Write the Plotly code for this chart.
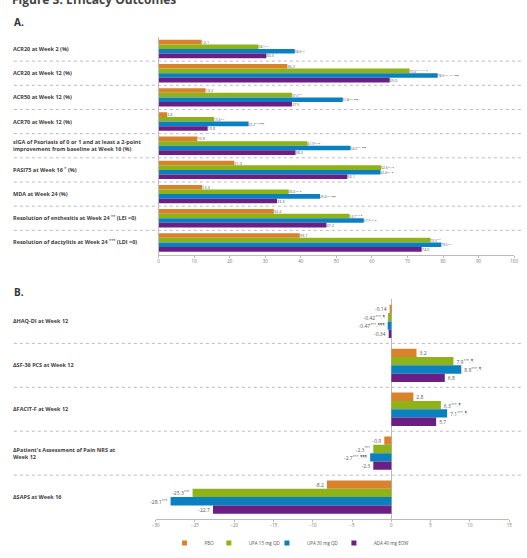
import plotly.graph_objects as go

W, H = 527, 558

series_names = ["PBO", "UPA 15 mg QD", "UPA 30 mg QD", "ADA 40 mg EOW"]
colors = ["#D9822B", "#8DB319", "#0A80C0", "#6B1F85"]

cats_a = [
    "ACR20 at Week 2 (%)",
    "ACR20 at Week 12 (%)",
    "ACR50 at Week 12 (%)",
    "ACR70 at Week 12 (%)",
    "sIGA of Psoriasis of 0 or 1 and at least a 2-point<br>improvement from baseline at Week 16 (%)",
    "PASI75 at Week 16 <sup>*</sup> (%)",
    "MDA at Week 24 (%)",
    "Resolution of enthesitis at Week 24 <sup>**</sup> (LEI =0)",
    "Resolution of dactylitis at Week 24 <sup>***</sup> (LDI =0)",
]
pbo_a = [12.1, 36.2, 13.2, 2.4, 10.9, 21.3, 12.3, 32.4, 39.7]
upa15_a = [28.1, 70.6, 37.5, 15.6, 41.9, 62.6, 36.6, 53.7, 76.5]
upa30_a = [38.3, 78.5, 51.8, 25.3, 54.0, 62.4, 45.4, 57.7, 79.5]
ada_a = [30.3, 65.0, 37.5, 13.8, 38.5, 53.1, 33.3, 47.2, 74.0]
sig_pbo_a = ["", "", "", "", "", "", "", "", ""]
sig_upa15_a = ["***", "***, ###, ¶", "***", "***", "***, ¶", "***, ¶", "***, ¶", "***, ¶", "***"]
sig_upa30_a = ["***", "***, ###, ¶¶¶", "***, ¶¶¶", "***, ¶¶¶", "***, ¶¶¶", "***, ¶", "***, ¶¶¶", "***, ¶", "***"]
sig_ada_a = ["", "", "", "", "", "", "", "", ""]

cats_b = [
    "ΔHAQ-DI at Week 12",
    "ΔSF-36 PCS at Week 12",
    "ΔFACIT-F at Week 12",
    "ΔPatient's Assessment of Pain NRS at<br>Week 12",
    "ΔSAPS at Week 16",
]
pbo_b = [-0.14, 3.2, 2.8, -0.9, -8.2]
upa15_b = [-0.42, 7.9, 6.3, -2.3, -25.3]
upa30_b = [-0.47, 8.9, 7.1, -2.7, -28.1]
ada_b = [-0.34, 6.8, 5.7, -2.3, -22.7]
sig_pbo_b = ["", "", "", "", ""]
sig_upa15_b = ["***, ¶", "***, ¶", "***, ¶", "***", "***"]
sig_upa30_b = ["***, ¶¶¶", "***, ¶", "***, ¶", "***, ¶¶¶", "***"]
sig_ada_b = ["", "", "", "", ""]

xticks_a = [0, 10, 20, 30, 40, 50, 60, 70, 80, 90, 100]
xticks_b = [-30, -25, -20, -15, -10, -5, 0, 5, 10, 15]


def fmt(v, sig, dec):
    s = f"{v:.{dec}f}"
    return s + (f"<sup>{sig}</sup>" if sig else "")


fig = go.Figure()

vals_a = [pbo_a, upa15_a, upa30_a, ada_a]
sigs_a = [sig_pbo_a, sig_upa15_a, sig_upa30_a, sig_ada_a]
vals_b = [pbo_b, upa15_b, upa30_b, ada_b]
sigs_b = [sig_pbo_b, sig_upa15_b, sig_upa30_b, sig_ada_b]

for k in range(4):
    fig.add_trace(go.Bar(
        y=cats_a, x=vals_a[k], orientation="h", name=series_names[k],
        marker=dict(color=colors[k], line=dict(width=0)),
        text=[fmt(v, s, 1) for v, s in zip(vals_a[k], sigs_a[k])],
        textposition="outside", textfont=dict(size=5, color="#555555"),
        cliponaxis=False, showlegend=False, xaxis="x", yaxis="y",
    ))
for k in range(4):
    decs = [2, 1, 1, 1, 1]
    fig.add_trace(go.Bar(
        y=cats_b, x=vals_b[k], orientation="h", name=series_names[k],
        marker=dict(color=colors[k], line=dict(width=0)),
        text=[fmt(v, s, d) for v, s, d in zip(vals_b[k], sigs_b[k], decs)],
        textposition="outside", textfont=dict(size=5, color="#555555"),
        cliponaxis=False, showlegend=False, xaxis="x2", yaxis="y2",
    ))

# one legend per series, so each entry sits where the reference has it
legend_ids = ["legend", "legend2", "legend3", "legend4"]
legend_x_px = [163, 208, 267, 335]
for k in range(4):
    fig.add_trace(go.Scatter(
        x=[None], y=[None], mode="markers", name=series_names[k],
        marker=dict(symbol="square", size=5, color=colors[k]),
        xaxis="x2", yaxis="y2", showlegend=True, legend=legend_ids[k],
    ))

axis_common = dict(
    showgrid=False, showline=True, linecolor="#BBBBBB", linewidth=1,
    ticks="outside", ticklen=2, tickcolor="#BBBBBB",
    tickfont=dict(size=4.5, color="#777777"),
)

legend_style = dict(orientation="h", y=1 - 544 / H, yanchor="middle",
                    xanchor="left", font=dict(size=4.5, color="#555555"),
                    itemwidth=30, bgcolor="rgba(0,0,0,0)")

fig.update_layout(
    width=W, height=H,
    margin=dict(l=0, r=0, t=0, b=0),
    paper_bgcolor="white", plot_bgcolor="white",
    barmode="group", bargap=0.24, bargroupgap=0,
    font=dict(family="Open Sans, DejaVu Sans, sans-serif"),
    xaxis=dict(domain=[157 / W, 518 / W], range=[0, 100], tickvals=xticks_a,
               anchor="y", zeroline=False, **axis_common),
    yaxis=dict(domain=[1 - 255 / H, 1 - 37 / H], autorange="reversed",
               showticklabels=False, showgrid=False, showline=True,
               linecolor="#BBBBBB", ticks="", anchor="x"),
    xaxis2=dict(domain=[154 / W, 513 / W], range=[-30, 15], tickvals=xticks_b,
                anchor="y2", zeroline=True, zerolinecolor="#BBBBBB",
                zerolinewidth=1, **axis_common),
    yaxis2=dict(domain=[1 - 520 / H, 1 - 300 / H], autorange="reversed",
                showticklabels=False, showgrid=False, showline=False,
                ticks="", anchor="x2"),
    legend=dict(x=legend_x_px[0] / W, **legend_style),
    legend2=dict(x=legend_x_px[1] / W, **legend_style),
    legend3=dict(x=legend_x_px[2] / W, **legend_style),
    legend4=dict(x=legend_x_px[3] / W, **legend_style),
)

annotations = [
    dict(text="<b>Figure 3. Efficacy Outcomes</b>", xref="paper", yref="paper",
         x=6 / W, y=1 + 1 / H, xanchor="left", yanchor="middle",
         showarrow=False, font=dict(size=12, color="#444444")),
    dict(text="<b>A.</b>", xref="paper", yref="paper", x=8 / W, y=1 - 22 / H,
         xanchor="left", yanchor="middle", showarrow=False,
         font=dict(size=10, color="#333333")),
    dict(text="<b>B.</b>", xref="paper", yref="paper", x=8 / W, y=1 - 293 / H,
         xanchor="left", yanchor="middle", showarrow=False,
         font=dict(size=10, color="#333333")),
]
for i, c in enumerate(cats_a):
    annotations.append(dict(text=f"<b>{c}</b>", xref="paper", yref="y", x=7 / W, y=i,
                            xanchor="left", yanchor="middle", align="left",
                            showarrow=False, font=dict(size=5.5, color="#404040")))
for i, c in enumerate(cats_b):
    annotations.append(dict(text=f"<b>{c}</b>", xref="paper", yref="y2", x=7 / W, y=i,
                            xanchor="left", yanchor="middle", align="left",
                            showarrow=False, font=dict(size=5.5, color="#404040")))
fig.update_layout(annotations=annotations)

shapes = []
for i in range(len(cats_a) - 1):
    shapes.append(dict(type="line", xref="paper", yref="y", x0=10 / W, x1=1,
                       y0=i + 0.5, y1=i + 0.5,
                       line=dict(color="#BBBBBB", width=1, dash="dot")))
for i in range(len(cats_b) - 1):
    shapes.append(dict(type="line", xref="paper", yref="y2", x0=10 / W, x1=1,
                       y0=i + 0.5, y1=i + 0.5,
                       line=dict(color="#BBBBBB", width=1, dash="dot")))
fig.update_layout(shapes=shapes)

fig.write_html("out.html")
